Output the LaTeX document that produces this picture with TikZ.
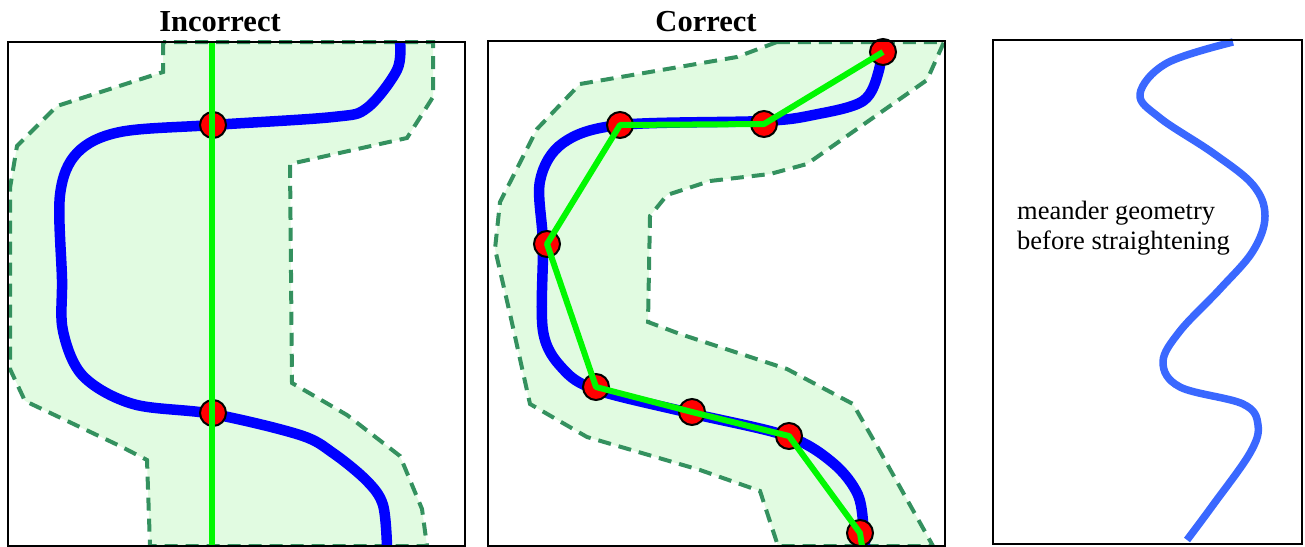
\documentclass[tikz,border=0pt]{standalone}
\usepackage{fontspec}
\setmainfont{Liberation Serif}
\definecolor{bandfill}{RGB}{225,251,225}
\definecolor{bandedge}{RGB}{52,145,95}
\definecolor{softblue}{RGB}{58,104,255}
\definecolor{chordgreen}{RGB}{0,248,0}
\begin{document}
\begin{tikzpicture}[x=1pt,y=-1pt,
  panel/.style={draw=black,line width=1.8pt},
  band/.style={fill=bandfill,draw=bandedge,line width=4pt,dash pattern=on 13pt off 8pt},
  river/.style={draw=blue,line width=10.5pt},
  meander/.style={draw=softblue,line width=7.5pt},
  chord/.style={draw=chordgreen,line width=6pt,line join=round},
  vertex/.style={circle,fill=red,draw=black,line width=2pt,minimum size=26pt,inner sep=0pt},
  title/.style={font=\bfseries\fontsize{30.5}{36}\selectfont,inner sep=0pt,anchor=base},
  label/.style={font=\fontsize{26.5}{30}\selectfont,inner sep=0pt,anchor=base west}]
\useasboundingbox (0,0) rectangle (1305,546);

% ---------- Panel 1: Incorrect ----------
\node[title] (t1) at (220,31) {Incorrect};
\draw[band] (163,42) -- (163,72) -- (57,106) -- (17,146) -- (10,188) -- (10,369) -- (25,401)
  -- (120,446) -- (147,460) -- (150,546) -- (427,546) -- (422,509) -- (400,456) -- (347,415)
  -- (292,383) -- (290,164) -- (407,138) -- (433,97) -- (433,42) -- cycle;
\draw[river] plot[smooth,tension=0.55] coordinates {(400,42) (397,70) (367,108) (333,117) (213,125)
  (120,132) (77,153) (60,195) (62,279) (63,331) (83,376) (133,404) (213,414) (300,435) (333,453)
  (367,481) (383,505) (387,546)};
\node[vertex] (a1) at (213,125) {};
\node[vertex] (a2) at (213,413) {};
\coordinate (g1top) at (212,42);
\coordinate (g1bot) at (212,546);
\draw[chord] (g1top) -- (g1bot);
\draw[panel] (8,42) rectangle (465,546);

% ---------- Panel 2: Correct ----------
\node[title] (t2) at (706,31) {Correct};
\draw[band] (777,42) -- (737,57) -- (580,84) -- (537,129) -- (500,202) -- (495,249) -- (510,314)
  -- (530,404) -- (587,437) -- (700,470) -- (760,491) -- (778,546) -- (933,546) -- (877,446)
  -- (853,404) -- (787,369) -- (680,334) -- (648,322) -- (650,216) -- (667,195) -- (710,181)
  -- (770,174) -- (807,164) -- (867,122) -- (927,80) -- (944,42) -- cycle;
\draw[river] plot[smooth,tension=0.55] coordinates {(881,40) (879,70) (863,101) (813,115) (763,121)
  (620,125) (563,143) (540,181) (543,244) (543,331) (563,369) (597,390) (690,413) (787,436)
  (833,463) (858,495) (864,533) (865,546)};
\node[vertex] (p1) at (883,52) {};
\node[vertex] (p2) at (764,124) {};
\node[vertex] (p3) at (620,125) {};
\node[vertex] (p4) at (547,244) {};
\node[vertex] (p5) at (596,387) {};
\node[vertex] (p6) at (692,412) {};
\node[vertex] (p7) at (789,436) {};
\node[vertex] (p8) at (860,533) {};
\coordinate (g2bot) at (862,546);
\draw[chord] (p1.center) -- (p2.center) -- (p3.center) -- (p4.center) -- (p5.center)
  -- (p6.center) -- (p7.center) -- (p8.center) -- (g2bot);
\draw[panel] (488,41) rectangle (945,546);

% ---------- Panel 3: meander geometry ----------
\draw[meander] plot[smooth,tension=0.6] coordinates {(1233,42) (1167,63) (1140,94) (1160,118)
  (1213,153) (1253,185) (1265,216) (1253,251) (1220,289) (1180,331) (1163,362) (1180,387)
  (1243,404) (1258,425) (1250,453) (1213,505) (1187,540)};
\node[label] (l1) at (1017,219) {meander geometry};
\node[label] (l2) at (1017,249) {before straightening};
\draw[panel] (993,40) rectangle (1302,544);
\end{tikzpicture}
\end{document}
